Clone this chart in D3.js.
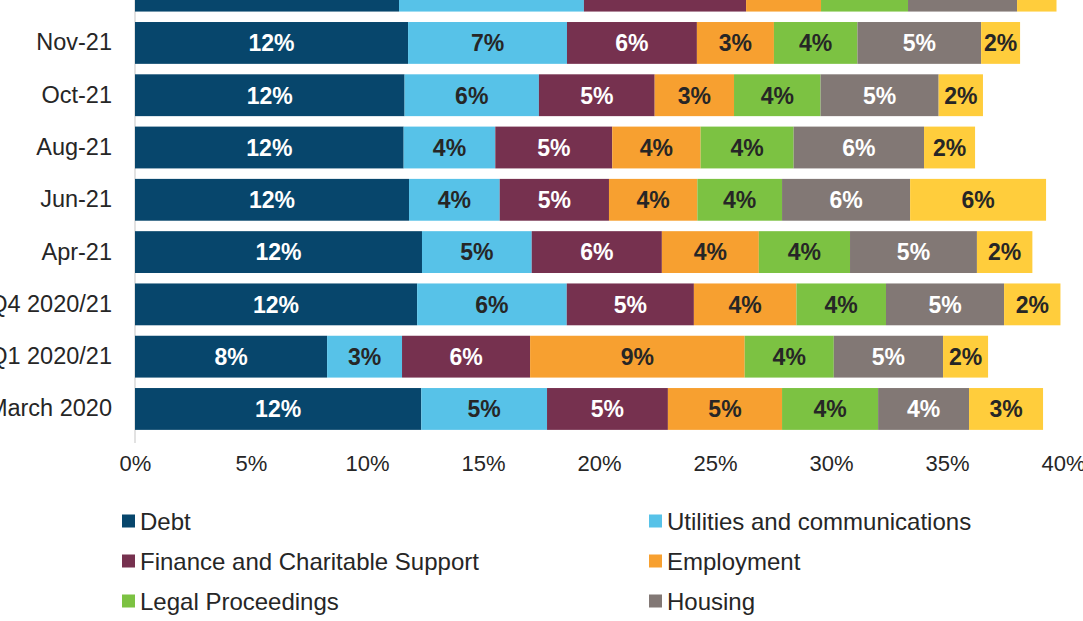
<!DOCTYPE html>
<html>
<head>
<meta charset="utf-8">
<script src="https://cdn.jsdelivr.net/npm/d3@7"></script>
<style>
  html, body { margin: 0; padding: 0; background: #ffffff; }
  svg { display: block; font-family: "Liberation Sans", Arial, sans-serif; }
</style>
</head>
<body>
<svg id="chart" width="1083" height="621"></svg>
<script>
// Categories, top to bottom
const categories = ["Dec-21", "Nov-21", "Oct-21", "Aug-21", "Jun-21", "Apr-21", "Q4 2020/21", "Q1 2020/21", "March 2020"];
const seriesNames = ["Debt", "Utilities and communications", "Finance and Charitable Support", "Employment", "Legal Proceedings", "Housing", "Other"];
const seriesColors = ["#07466C", "#57C2E8", "#76314F", "#F7A030", "#7CC242", "#827875", "#FFCD3C"];
const labelColors = ["#ffffff", "#262626", "#ffffff", "#262626", "#262626", "#ffffff", "#262626"];

const debt        = [11.38, 11.77, 11.62, 11.58, 11.81, 12.37, 12.16, 8.28, 12.34];
const utilities   = [7.97, 6.85, 5.79, 3.95, 3.91, 4.73, 6.45, 3.23, 5.42];
const finance     = [6.99, 5.60, 4.99, 5.04, 4.71, 5.61, 5.48, 5.52, 5.21];
const employment  = [3.23, 3.32, 3.42, 3.81, 3.81, 4.18, 4.42, 9.25, 4.92];
const legal       = [3.75, 3.60, 3.73, 4.01, 3.65, 3.93, 3.86, 3.84, 4.14];
const housing     = [4.70, 5.33, 5.09, 5.62, 5.52, 5.47, 5.09, 4.71, 3.92];
const other       = [1.70, 1.68, 1.91, 2.20, 5.86, 2.39, 2.43, 1.94, 3.19];

const xTicks = [0, 5, 10, 15, 20, 25, 30, 35, 40];

const seriesValues = [debt, utilities, finance, employment, legal, housing, other];

const rows = categories.map((c, i) => {
  const r = { category: c };
  seriesNames.forEach((s, j) => { r[s] = seriesValues[j][i]; });
  return r;
});
const stacked = d3.stack().keys(seriesNames)(rows);

const svg = d3.select("#chart");

const x = d3.scaleLinear().domain([0, 40]).range([135, 1063]);
const y = d3.scaleBand().domain(categories).range([-35.5, 435.1]).paddingInner(0.2).paddingOuter(0.1);

// rows whose labels fall inside the visible area
const visible = c => y(c) + y.bandwidth() / 2 - 14 >= 0;

// vertical axis line
svg.append("line")
  .attr("x1", x(0)).attr("x2", x(0))
  .attr("y1", 0).attr("y2", 443)
  .attr("stroke", "#d9d9d9").attr("stroke-width", 1.5);

// bars
const layers = svg.append("g").selectAll("g")
  .data(stacked).join("g")
  .attr("fill", (d, i) => seriesColors[i]);

layers.selectAll("rect")
  .data(d => d.map(p => ({ p, cat: p.data.category })))
  .join("rect")
  .attr("x", d => x(d.p[0]))
  .attr("width", d => x(d.p[1]) - x(d.p[0]))
  .attr("y", d => y(d.cat))
  .attr("height", y.bandwidth());

// bar labels
stacked.forEach((layer, i) => {
  svg.append("g").selectAll("text")
    .data(layer.filter(d => visible(d.data.category))).join("text")
    .attr("x", d => (x(d[0]) + x(d[1])) / 2)
    .attr("y", d => y(d.data.category) + y.bandwidth() / 2)
    .attr("dy", "0.36em")
    .attr("text-anchor", "middle")
    .attr("font-size", "23px")
    .attr("font-weight", "bold")
    .attr("fill", labelColors[i])
    .text(d => Math.round(d[1] - d[0]) + "%");
});

// category labels
const yAxis = d3.axisLeft(y).tickValues(categories.filter(visible)).tickSize(0).tickPadding(0);
const yg = svg.append("g").attr("transform", `translate(${x(0) - 23},0)`).call(yAxis);
yg.select(".domain").remove();
yg.selectAll("text").attr("font-size", "23.5px").attr("fill", "#262626")
  .attr("font-family", "Liberation Sans, Arial, sans-serif");

// x axis tick labels
const xAxis = d3.axisBottom(x).tickValues(xTicks).tickFormat(d => d + "%").tickSize(0).tickPadding(0);
const xg = svg.append("g").attr("transform", "translate(0,455)").call(xAxis);
xg.select(".domain").remove();
xg.selectAll("text").attr("font-size", "22px").attr("fill", "#262626").attr("dy", "0.71em")
  .attr("font-family", "Liberation Sans, Arial, sans-serif");

// legend
const legend = svg.append("g");
seriesNames.forEach((s, i) => {
  const col = i % 2, row = Math.floor(i / 2);
  const lx = col === 0 ? 122 : 649;
  const ly = 521 + row * 40;
  const g = legend.append("g");
  g.append("rect").attr("x", lx).attr("y", ly - 6.5).attr("width", 13).attr("height", 13).attr("fill", seriesColors[i]);
  g.append("text").attr("x", lx + 18).attr("y", ly).attr("dy", "0.36em")
    .attr("font-size", "24px").attr("fill", "#262626").text(s);
});
</script>
</body>
</html>
